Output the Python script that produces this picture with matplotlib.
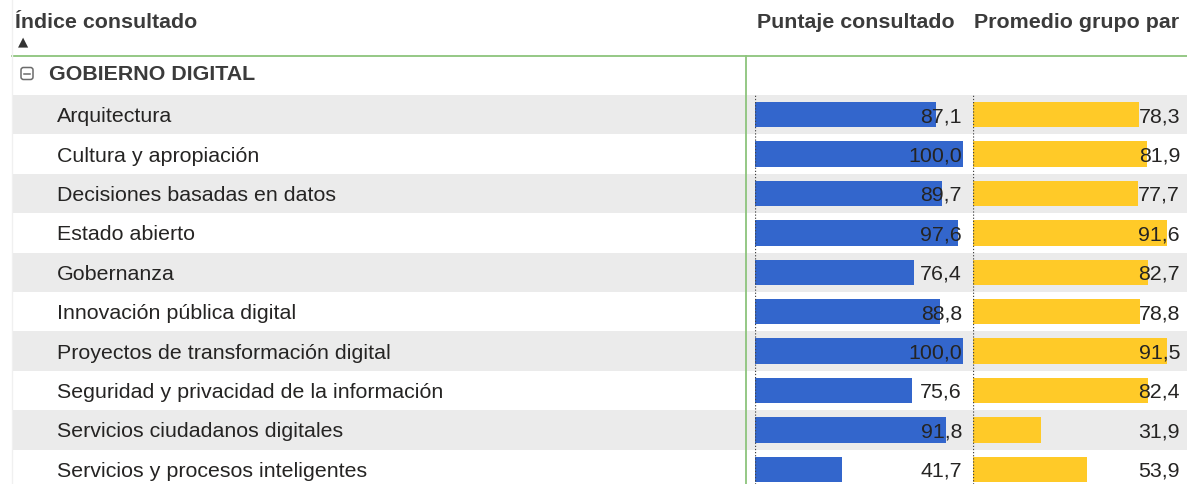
import matplotlib
matplotlib.use("Agg")
import matplotlib.pyplot as plt
from matplotlib.patches import FancyBboxPatch

plt.rcParams["font.family"] = ["Liberation Sans", "DejaVu Sans"]

# datos
indices = [
    "Arquitectura",
    "Cultura y apropiación",
    "Decisiones basadas en datos",
    "Estado abierto",
    "Gobernanza",
    "Innovación pública digital",
    "Proyectos de transformación digital",
    "Seguridad y privacidad de la información",
    "Servicios ciudadanos digitales",
    "Servicios y procesos inteligentes",
]
puntaje_consultado = [87.1, 100.0, 89.7, 97.6, 76.4, 88.8, 100.0, 75.6, 91.8, 41.7]
promedio_grupo_par = [78.3, 81.9, 77.7, 91.6, 82.7, 78.8, 91.5, 82.4, 31.9, 53.9]
grupo = "GOBIERNO DIGITAL"
col_indice = "Índice consultado"
col_puntaje = "Puntaje consultado"
col_promedio = "Promedio grupo par"

W, H = 1187, 485
TXT = "#252423"
HDR = "#3b3b3b"
VERDE = "#8cc47c"
GRIS = "#ebebeb"
AZUL = "#3366cc"
AMARILLO = "#ffca28"

fila_top = 96.0
paso = 39.4
fs = 15.4


def fmt(v):
    return f"{v:.1f}".replace(".", ",")


fig = plt.figure(figsize=(W / 100, H / 100), dpi=100)
base = fig.add_axes([0, 0, 1, 1])
base.set_xlim(0, W)
base.set_ylim(H, 0)
base.axis("off")

# bandas alternas
for i in range(len(indices)):
    if i % 2 == 0:
        y0 = fila_top + paso * i
        base.fill_between([12, W], y0, y0 + paso, color=GRIS, lw=0, zorder=0)

# encabezado
base.text(15, 23, col_indice, fontsize=fs, fontweight="bold", color=HDR, va="center", ha="left")
base.text(23.5, 42, "▲", fontsize=9.5, color="#333333", va="center", ha="center", family="DejaVu Sans")
base.text(955, 23, col_puntaje, fontsize=fs, fontweight="bold", color=HDR, va="center", ha="right")
base.text(1179, 23, col_promedio, fontsize=fs, fontweight="bold", color=HDR, va="center", ha="right")
base.plot([12, W], [56.5, 56.5], color=VERDE, lw=1.3)
base.plot([745.5, 745.5], [56.5, H], color=VERDE, lw=1.3)
base.plot([12, 12], [0, H], color="#f0f0f0", lw=1)

# grupo
base.add_patch(FancyBboxPatch((21, 68.5), 12, 12, boxstyle="round,pad=0,rounding_size=2.5",
                              fc="none", ec="#6b6b6b", lw=1.1))
base.plot([24, 30], [74.5, 74.5], color="#6b6b6b", lw=1.1)
base.text(49, 75, grupo, fontsize=fs, fontweight="bold", color=HDR, va="center", ha="left")

# etiquetas de filas
for i, nombre in enumerate(indices):
    base.text(57, fila_top + paso * (i + 0.5) + 1, nombre, fontsize=fs, color=TXT, va="center", ha="left")

# barras
alto_ax = H - fila_top
ylim_inf = -0.5 + alto_ax / paso
filas = list(range(len(indices)))

columnas = [
    (755, 963, puntaje_consultado, AZUL, 962),
    (973, 1185, promedio_grupo_par, AMARILLO, 1180),
]
for x0, x1, valores, color, x_num in columnas:
    ax = fig.add_axes([x0 / W, 0, (x1 - x0) / W, alto_ax / H])
    ax.set_xlim(0, 100)
    ax.set_ylim(ylim_inf, -0.5)
    ax.axis("off")
    ax.barh(filas, valores, height=0.64, color=color, zorder=2)
    ax.axvline(0, color="#444444", lw=0.9, ls=(0, (1, 1.5)), zorder=3)

# capa de texto encima de las barras
capa = fig.add_axes([0, 0, 1, 1])
capa.set_xlim(0, W)
capa.set_ylim(H, 0)
capa.axis("off")
capa.patch.set_alpha(0)
for x0, x1, valores, color, x_num in columnas:
    for i, v in enumerate(valores):
        capa.text(x_num, fila_top + paso * (i + 0.5) + 1, fmt(v), fontsize=fs, color=TXT,
                  va="center", ha="right")

fig.savefig("out.png", dpi=100)
